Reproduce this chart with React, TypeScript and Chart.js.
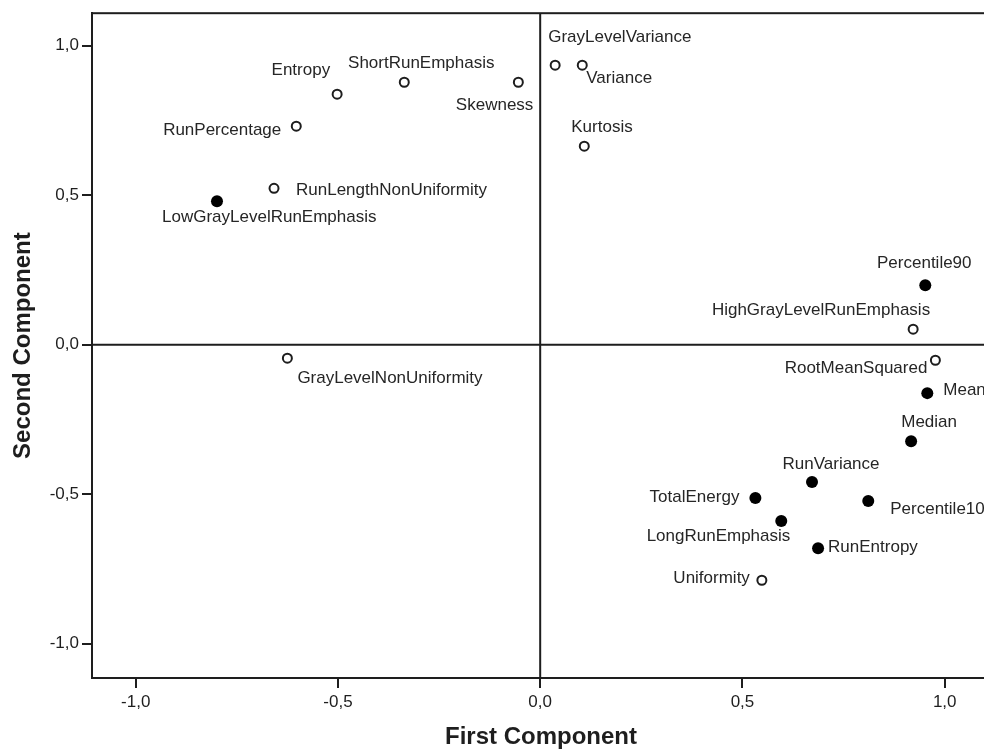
import React, { useEffect, useRef } from "react";
import { Chart, registerables } from "chart.js";

Chart.register(...registerables);

// ---- data (component loadings) ----
const openNames = [
  "Entropy",
  "ShortRunEmphasis",
  "Skewness",
  "GrayLevelVariance",
  "Variance",
  "Kurtosis",
  "RunPercentage",
  "RunLengthNonUniformity",
  "GrayLevelNonUniformity",
  "HighGrayLevelRunEmphasis",
  "RootMeanSquared",
  "Uniformity",
];
const openX = [-0.502, -0.336, -0.054, 0.037, 0.104, 0.109, -0.603, -0.658, -0.625, 0.922, 0.977, 0.548];
const openY = [0.838, 0.878, 0.878, 0.935, 0.935, 0.664, 0.731, 0.523, -0.045, 0.052, -0.052, -0.788];

const filledNames = [
  "LowGrayLevelRunEmphasis",
  "Percentile90",
  "Mean",
  "Median",
  "RunVariance",
  "TotalEnergy",
  "Percentile10",
  "LongRunEmphasis",
  "RunEntropy",
];
const filledX = [-0.799, 0.952, 0.957, 0.917, 0.672, 0.532, 0.811, 0.596, 0.687];
const filledY = [0.48, 0.199, -0.162, -0.323, -0.459, -0.513, -0.523, -0.59, -0.681];

const xTicks = [-1, -0.5, 0, 0.5, 1];
const yTicks = [-1, -0.5, 0, 0.5, 1];
const xTitle = "First Component";
const yTitle = "Second Component";

// ---- label placement (layout, not data): [dx, dy, align] ----
const labelPlacement: Record<string, [number, number, CanvasTextAlign]> = {
  Entropy: [-7, -24, "right"],
  ShortRunEmphasis: [17, -19, "center"],
  Skewness: [15, 23, "right"],
  GrayLevelVariance: [-7, -28, "left"],
  Variance: [4, 13, "left"],
  Kurtosis: [-13, -19, "left"],
  RunPercentage: [-15, 4, "right"],
  RunLengthNonUniformity: [22, 2, "left"],
  LowGrayLevelRunEmphasis: [-55, 16, "left"],
  GrayLevelNonUniformity: [10, 20, "left"],
  Percentile90: [-1, -22, "center"],
  HighGrayLevelRunEmphasis: [17, -19, "right"],
  RootMeanSquared: [-8, 8, "right"],
  Mean: [16, -3, "left"],
  Median: [18, -19, "center"],
  RunVariance: [19, -18, "center"],
  TotalEnergy: [-16, -1, "right"],
  Percentile10: [22, 8, "left"],
  LongRunEmphasis: [9, 15, "right"],
  RunEntropy: [10, -1, "left"],
  Uniformity: [-12, -2, "right"],
};

const FONT = "'Liberation Sans', Arial, sans-serif";
const INK = "#1e1e1e";

const fmt = (v: number) => Number(v).toFixed(1).replace(".", ",");

const framePlugin = {
  id: "frame",
  beforeDatasetsDraw(chart: any) {
    const { ctx, chartArea, scales } = chart;
    ctx.save();
    ctx.strokeStyle = INK;
    ctx.lineWidth = 2;
    ctx.strokeRect(chartArea.left, chartArea.top, chartArea.right - chartArea.left, chartArea.bottom - chartArea.top);
    const x0 = scales.x.getPixelForValue(0);
    const y0 = scales.y.getPixelForValue(0);
    ctx.beginPath();
    ctx.moveTo(x0, chartArea.top);
    ctx.lineTo(x0, chartArea.bottom);
    ctx.moveTo(chartArea.left, y0);
    ctx.lineTo(chartArea.right, y0);
    ctx.stroke();
    ctx.restore();
  },
};

const labelPlugin = {
  id: "pointLabels",
  afterDatasetsDraw(chart: any) {
    const { ctx } = chart;
    ctx.save();
    ctx.font = `17px ${FONT}`;
    ctx.fillStyle = "#262626";
    ctx.textBaseline = "middle";
    chart.data.datasets.forEach((ds: any, di: number) => {
      const meta = chart.getDatasetMeta(di);
      meta.data.forEach((el: any, i: number) => {
        const name = ds.names[i];
        const p = labelPlacement[name] || [8, 0, "left"];
        ctx.textAlign = p[2];
        ctx.fillText(name, el.x + p[0], el.y + p[1]);
      });
    });
    ctx.restore();
  },
};

export default function App() {
  const ref = useRef<HTMLCanvasElement | null>(null);

  useEffect(() => {
    if (!ref.current) return;
    const chart = new Chart(ref.current, {
      type: "scatter",
      data: {
        datasets: [
          {
            label: "open",
            names: openNames,
            data: openX.map((x, i) => ({ x, y: openY[i] })),
            pointRadius: 4.5,
            pointBorderWidth: 2,
            pointBackgroundColor: "#ffffff",
            pointBorderColor: INK,
          } as any,
          {
            label: "filled",
            names: filledNames,
            data: filledX.map((x, i) => ({ x, y: filledY[i] })),
            pointRadius: 6,
            pointBorderWidth: 0,
            pointBackgroundColor: "#000000",
            pointBorderColor: "#000000",
          } as any,
        ],
      },
      options: {
        responsive: false,
        maintainAspectRatio: false,
        animation: false,
        events: [],
        layout: { padding: { top: 13, right: 10, left: 0, bottom: 0 } },
        plugins: {
          legend: { display: false },
          tooltip: { enabled: false },
        },
        scales: {
          x: {
            type: "linear",
            min: -1.108,
            max: 1.112,
            afterFit: (s: any) => {
              s.height = 71;
            },
            afterBuildTicks: (s: any) => {
              s.ticks = xTicks.map((v) => ({ value: v }));
            },
            grid: {
              drawOnChartArea: false,
              drawTicks: true,
              tickLength: 10,
              color: INK,
              lineWidth: 2,
            },
            border: { display: true, color: INK, width: 2 },
            ticks: {
              callback: (v: any) => fmt(v),
              color: INK,
              padding: 4,
              maxRotation: 0,
              font: { family: FONT, size: 17 },
            },
            title: {
              display: true,
              text: xTitle,
              color: INK,
              font: { family: FONT, size: 24, weight: "bold", lineHeight: 1 },
              padding: { top: 0, bottom: 0 },
            },
          },
          y: {
            type: "linear",
            min: -1.115,
            max: 1.109,
            afterFit: (s: any) => {
              s.width = 92;
            },
            afterBuildTicks: (s: any) => {
              s.ticks = yTicks.map((v) => ({ value: v }));
            },
            grid: {
              drawOnChartArea: false,
              drawTicks: true,
              tickLength: 10,
              color: INK,
              lineWidth: 2,
            },
            border: { display: true, color: INK, width: 2 },
            ticks: {
              callback: (v: any) => fmt(v),
              color: INK,
              padding: 3,
              font: { family: FONT, size: 17 },
            },
            title: {
              display: true,
              text: yTitle,
              color: INK,
              font: { family: FONT, size: 24, weight: "bold", lineHeight: 1 },
              padding: { top: 11, bottom: 0 },
            },
          },
        },
      } as any,
      plugins: [framePlugin, labelPlugin],
    });
    return () => chart.destroy();
  }, []);

  return (
    <div
      style={{
        position: "fixed",
        left: 0,
        top: 0,
        width: 984,
        height: 749,
        overflow: "hidden",
        background: "#ffffff",
      }}
    >
      <canvas ref={ref} width={1000} height={749} style={{ display: "block" }} />
    </div>
  );
}
